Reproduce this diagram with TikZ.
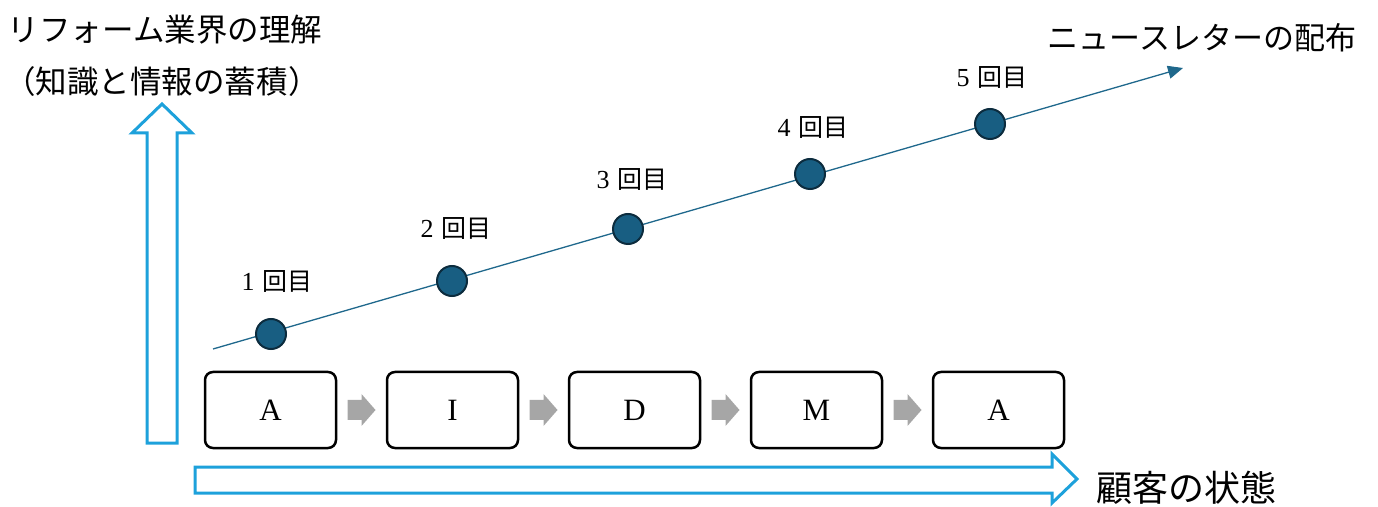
\documentclass[tikz,border=0pt]{standalone}
\usepackage{fontspec}
\setmainfont{Liberation Serif}
\newfontfamily\jp{Noto Sans CJK JP}
\usetikzlibrary{arrows.meta,calc}
\definecolor{cyanblue}{RGB}{29,161,219}
\definecolor{dotfill}{RGB}{24,94,130}
\definecolor{dotline}{RGB}{12,44,62}
\definecolor{linecol}{RGB}{31,104,140}
\definecolor{grayarr}{RGB}{166,166,166}
\tikzset{
  stagebox/.style={draw=black,line width=2.5pt,rounded corners=8pt,minimum width=131pt,minimum height=76pt,inner sep=0pt,font=\fontsize{31}{34}\selectfont},
  dotnode/.style={circle,fill=dotfill,draw=dotline,line width=2pt,minimum size=30pt,inner sep=0pt},
  lbl/.style={font=\fontsize{26}{30}\selectfont,inner sep=0pt},
  bigarrow/.style={draw=cyanblue,line width=3pt,fill=white,line join=miter},
}
\begin{document}
\begin{tikzpicture}[x=1pt,y=1pt]
\useasboundingbox (0,0) rectangle (1378,506);
% vertical block arrow
\draw[bigarrow] (147,63) -- (147,373) -- (132,373) -- (162,402) -- (192,373) -- (177,373) -- (177,63) -- cycle;
% horizontal block arrow
\draw[bigarrow] (195,13) -- (1052,13) -- (1052,3) -- (1077,27) -- (1052,52) -- (1052,39) -- (195,39) -- cycle;
% axis labels
\node[font=\jp\fontsize{31.5}{34}\selectfont,inner sep=0pt] (ylab1) at (165,476) {リフォーム業界の理解};
\node[font=\jp\fontsize{31.5}{34}\selectfont,inner sep=0pt] (ylab2) at (162,424) {（知識と情報の蓄積）};
\node[font=\jp\fontsize{36}{40}\selectfont,inner sep=0pt] (xlab) at (1186,18) {顧客の状態};
% stage boxes
\foreach \i/\t/\x in {1/A/270.5,2/I/452.5,3/D/634.5,4/M/816.5,5/A/998.5}{
  \node[stagebox] (b\i) at (\x,96) {\t};
}
% gray arrows
\foreach \i [evaluate=\i as \j using int(\i+1)] in {1,2,3,4}{
  \coordinate (g\i) at ($(b\i.east)!0.5!(b\j.west)$);
  \fill[grayarr] ($(g\i)+(-14,-10)$) -- ($(g\i)+(0,-10)$) -- ($(g\i)+(0,-16)$) -- ($(g\i)+(14,0)$) -- ($(g\i)+(0,16)$) -- ($(g\i)+(0,10)$) -- ($(g\i)+(-14,10)$) -- cycle;
}
% newsletter line
\coordinate (ls) at (213,157);
\coordinate (le) at (1183,438);
\draw[linecol,line width=1.3pt,-{Triangle[length=15pt,width=13pt]}] (ls) -- (le);
\node[font=\jp\fontsize{31}{34}\selectfont,inner sep=0pt] (nl) at (1202,468) {ニュースレターの配布};
% dots
\foreach \i/\x/\y/\lx/\ly in {1/271/172/277/224,2/452/225/456/277,3/628/277/632/326,4/810/332/813/378,5/990/382/992/428}{
  \node[dotnode] (d\i) at (\x,\y) {};
  \node[lbl] (t\i) at (\lx,\ly) {\i\hspace{0.3em}{\jp\fontsize{25}{30}\selectfont 回目}};
}
\end{tikzpicture}
\end{document}
